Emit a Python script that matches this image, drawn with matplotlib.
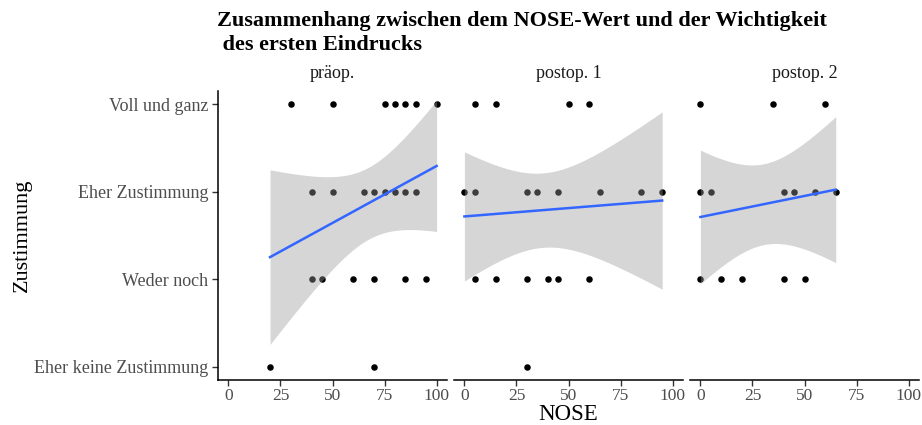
import math
import numpy as np
import matplotlib
matplotlib.use("Agg")
import matplotlib.pyplot as plt

plt.rcParams['font.family'] = ['Liberation Serif', 'DejaVu Serif']

# NOSE score vs. agreement level (1 = Eher keine Zustimmung ... 4 = Voll und ganz)
panels = ["präop.", "postop. 1", "postop. 2"]
level_labels = ["Eher keine Zustimmung", "Weder noch", "Eher Zustimmung", "Voll und ganz"]

praeop_nose = [30, 50, 75, 80, 85, 90, 100,
               40, 50, 65, 70, 75, 80, 85, 90,
               40, 45, 60, 70, 85, 95,
               20, 70]
praeop_level = [4] * 7 + [3] * 8 + [2] * 6 + [1] * 2

postop1_nose = [5, 15, 50, 60,
                0, 5, 30, 35, 45, 65, 85, 95,
                5, 15, 30, 40, 45, 60,
                30]
postop1_level = [4] * 4 + [3] * 8 + [2] * 6 + [1] * 1

postop2_nose = [0, 35, 60,
                0, 5, 40, 45, 55, 65,
                0, 10, 20, 40, 50]
postop2_level = [4] * 3 + [3] * 6 + [2] * 5

x_ticks = [0, 25, 50, 75, 100]
series = [(praeop_nose, praeop_level), (postop1_nose, postop1_level), (postop2_nose, postop2_level)]


def t_quantile(p, df):
    """Student-t quantile via numeric integration of the density."""
    grid = np.linspace(0, 40, 40001)
    logc = math.lgamma((df + 1) / 2) - math.lgamma(df / 2) - 0.5 * math.log(df * math.pi)
    dens = np.exp(logc) * (1 + grid ** 2 / df) ** (-(df + 1) / 2)
    cdf = 0.5 + np.concatenate([[0], np.cumsum((dens[1:] + dens[:-1]) / 2 * np.diff(grid))])
    return float(np.interp(p, cdf, grid))


def lm_band(x, y, n_grid=80):
    x = np.asarray(x, float)
    y = np.asarray(y, float)
    n = len(x)
    b1, b0 = np.polyfit(x, y, 1)
    resid = y - (b0 + b1 * x)
    s = np.sqrt(np.sum(resid ** 2) / (n - 2))
    xs = np.linspace(x.min(), x.max(), n_grid)
    fit = b0 + b1 * xs
    se = s * np.sqrt(1 / n + (xs - x.mean()) ** 2 / np.sum((x - x.mean()) ** 2))
    t = t_quantile(0.975, n - 2)
    return xs, fit, fit - t * se, fit + t * se


W, H = 922, 425
fig = plt.figure(figsize=(W / 100, H / 100), dpi=100)

panel_left = [218, 454, 690]
panel_w = 229
panel_top, panel_bottom = 91, 380

axes = []
for i, (name, (nx, lv)) in enumerate(zip(panels, series)):
    ax = fig.add_axes([panel_left[i] / W, 1 - panel_bottom / H,
                       panel_w / W, (panel_bottom - panel_top) / H])
    axes.append(ax)
    ax.scatter(nx, lv, s=22, color='black', zorder=2, linewidths=0)
    xs, fit, lo, hi = lm_band(nx, lv)
    ax.fill_between(xs, lo, hi, color='#999999', alpha=0.4, linewidth=0, zorder=3)
    ax.plot(xs, fit, color='#3366FF', linewidth=1.8, zorder=4)

    ax.set_xlim(-5, 105)
    ax.set_ylim(0.85, 4.15)
    ax.set_xticks(x_ticks)
    ax.set_xticklabels([str(v) for v in x_ticks], color='#4D4D4D', fontsize=12.5)
    ax.set_yticks([1, 2, 3, 4])
    for side in ['top', 'right']:
        ax.spines[side].set_visible(False)
    ax.spines['bottom'].set_linewidth(1.1)
    ax.tick_params(axis='x', length=4, width=1, color='#333333', pad=2)
    if i == 0:
        ax.set_yticklabels(level_labels, color='#4D4D4D', fontsize=13)
        ax.spines['left'].set_linewidth(1.1)
        ax.tick_params(axis='y', length=4, width=1, color='#333333', pad=3)
    else:
        ax.spines['left'].set_visible(False)
        ax.tick_params(axis='y', left=False, labelleft=False)
    ax.set_facecolor('none')
    ax.text(0.5, 1.03, name, transform=ax.transAxes, ha='center', va='bottom',
            fontsize=13, color='#1A1A1A')

fig.text(217 / W, 1 - 11 / H,
         "Zusammenhang zwischen dem NOSE-Wert und der Wichtigkeit\n des ersten Eindrucks",
         ha='left', va='top', fontsize=16, fontweight='bold', linespacing=1.25)
fig.text(568 / W, 1 - 415 / H, "NOSE", ha='center', va='center', fontsize=16.5)
fig.text(22 / W, 1 - 235 / H, "Zustimmung", ha='center', va='center',
         fontsize=16, rotation=90)

fig.savefig("out.png", dpi=100)
